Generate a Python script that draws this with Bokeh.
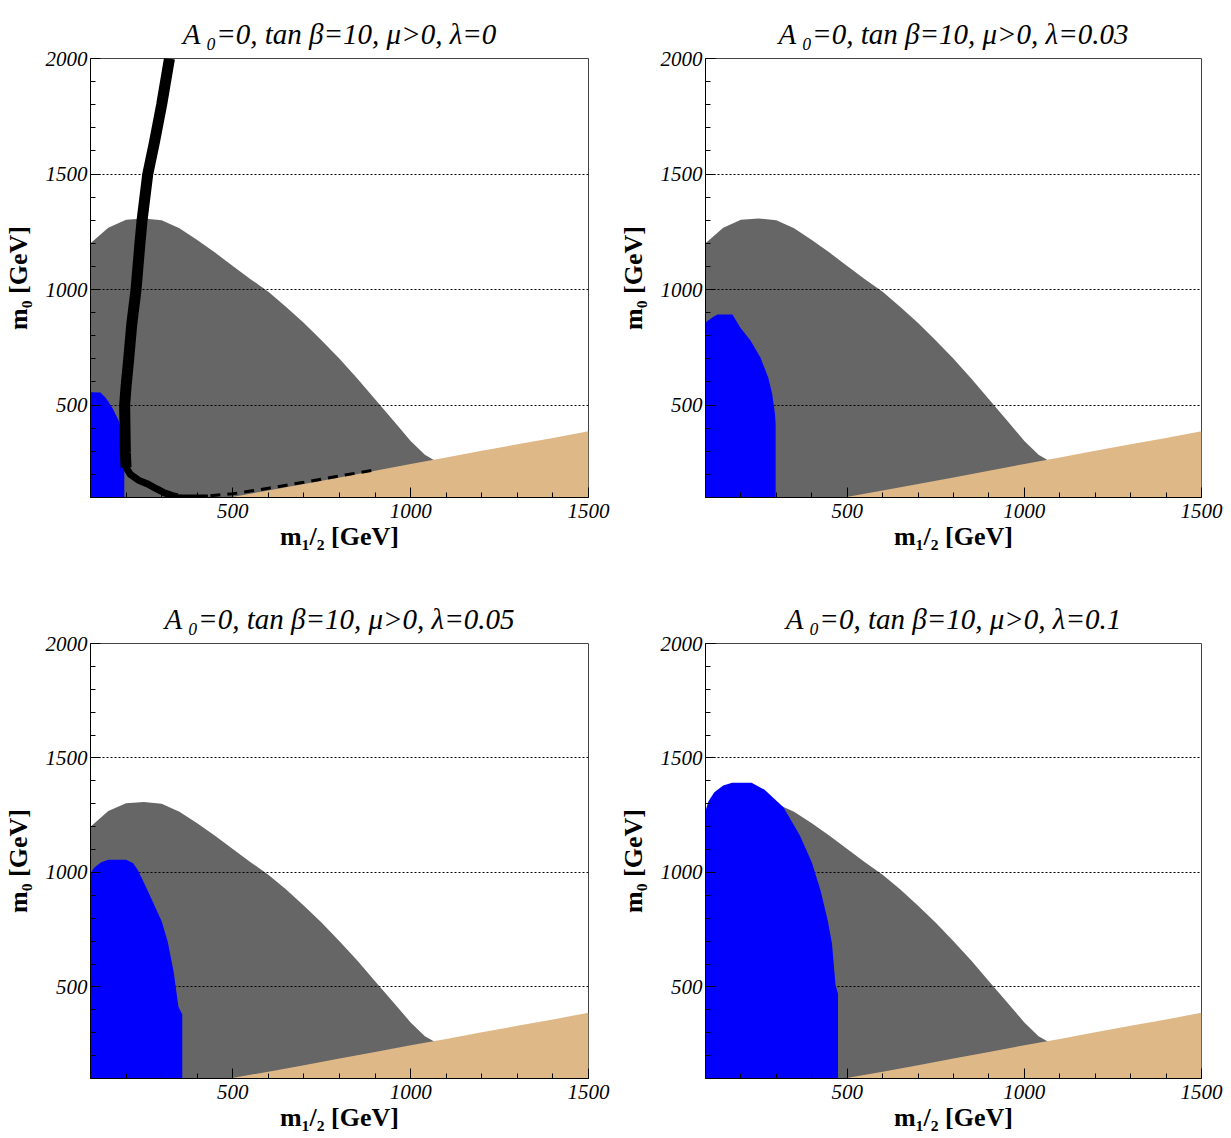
from bokeh.plotting import figure
from bokeh.models import Range1d, FixedTicker
from bokeh.layouts import column, row
from bokeh.embed import file_html
from bokeh.resources import INLINE

# ---------------- data ----------------
X_RANGE = (100, 1500)
Y_RANGE = (100, 2000)
X_MAJOR = [500, 1000, 1500]
X_MINOR = [100, 200, 300, 400, 600, 700, 800, 900, 1100, 1200, 1300, 1400]
Y_MAJOR = [500, 1000, 1500, 2000]
Y_MINOR = [100, 200, 300, 400, 600, 700, 800, 900, 1100, 1200, 1300, 1400,
           1600, 1700, 1800, 1900]

LAMBDAS = ["0", "0.03", "0.05", "0.1"]
X_LABEL = "m₁/₂ [GeV]"
Y_LABEL = "m₀ [GeV]"

# grey excluded region: upper boundary (same in all panels)
gray_x = [100, 150, 200, 250, 300, 350, 400, 450, 500, 550, 600, 650, 700,
          750, 800, 850, 900, 950, 1000, 1040, 1070, 1070]
gray_y = [1200, 1268, 1302, 1308, 1300, 1265, 1215, 1160, 1102, 1045, 990,
          925, 855, 780, 700, 615, 525, 435, 345, 285, 258, 100]

# tan (charged LSP) region: upper boundary
tan_x = [490, 600, 700, 800, 900, 1000, 1100, 1200, 1300, 1400, 1500, 1500]
tan_y = [100, 130, 158, 187, 216, 245, 273, 302, 330, 358, 387, 100]

# blue regions, one per lambda
blue_x = [
    [100, 100, 128, 142, 161, 179, 189, 195, 195],
    [100, 100, 120, 134, 176, 198, 227, 255, 277, 288, 296, 298, 298],
    [100, 100, 110, 130, 150, 200, 220, 233, 256, 278, 300, 317, 334, 347, 358, 358],
    [100, 100, 108, 125, 150, 175, 230, 266, 320, 366, 400, 425, 445, 457, 467, 474, 474],
]
blue_y = [
    [100, 555, 554, 533, 490, 433, 377, 330, 100],
    [100, 857, 880, 892, 892, 836, 779, 706, 619, 550, 463, 420, 100],
    [100, 996, 1020, 1045, 1055, 1055, 1040, 1011, 936, 862, 787, 698, 564, 415, 380, 100],
    [100, 1268, 1310, 1350, 1380, 1392, 1392, 1362, 1285, 1162, 1045, 920, 790, 690, 508, 470, 100],
]

# black band (lambda = 0 panel only)
band_up_x = [322, 300, 280, 261, 245, 239, 228, 216, 208, 200, 196, 197, 198, 200]
band_up_y = [2000, 1800, 1640, 1500, 1300, 1200, 1000, 850, 710, 580, 500, 400, 293, 230]
band_lo_x = [198, 200, 212, 235, 259, 285, 305, 330, 345]
band_lo_y = [300, 230, 200, 175, 160, 138, 122, 108, 104]
band_bot_x = [330, 360, 430]
band_bot_y = [103, 102, 102]
band_dash_x = [437, 500, 600, 700, 800, 900]
band_dash_y = [108, 116, 140, 166, 193, 220]

# ---------------- styling ----------------
FONT = "Liberation Serif"
GRAY = "#666666"
BLUE = "#0000fc"
TAN = "#deb887"


def make_panel(idx, W, H, bl, br, bt, bb):
    title = "A\u2009₀=0, tan β=10, μ>0, λ=" + LAMBDAS[idx]
    p = figure(width=W, height=H, x_range=Range1d(*X_RANGE),
               y_range=Range1d(*Y_RANGE), output_backend="svg",
               toolbar_location=None, min_border_left=bl, min_border_right=br,
               min_border_top=bt, min_border_bottom=bb, title=title)
    p.title.align = "center"
    p.title.text_font = FONT
    p.title.text_font_style = "italic"
    p.title.text_font_size = "29px"
    p.title.text_color = "black"
    p.title.standoff = 17
    p.background_fill_color = "white"
    p.border_fill_color = "white"
    p.outline_line_color = "#444444"
    p.outline_line_width = 1

    # regions
    p.patch(gray_x + [100], gray_y + [100], fill_color=GRAY, line_color=None,
            level="image")
    p.patch(tan_x, tan_y, fill_color=TAN, line_color=None)
    p.patch(blue_x[idx], blue_y[idx], fill_color=BLUE, line_color=None)
    if idx == 0:
        p.line(band_up_x, band_up_y, line_color="black", line_width=11,
               line_join="round")
        p.line(band_lo_x, band_lo_y, line_color="black", line_width=7,
               line_join="round")
        p.line(band_bot_x, band_bot_y, line_color="black", line_width=5)
        p.line(band_dash_x, band_dash_y, line_color="black", line_width=3,
               line_dash="10 7")

    # grid
    p.xgrid.visible = False
    p.ygrid.ticker = FixedTicker(ticks=Y_MAJOR)
    p.ygrid.grid_line_color = "black"
    p.ygrid.grid_line_dash = "2 2"
    p.ygrid.grid_line_width = 1
    p.ygrid.level = "underlay"

    # axes
    p.xaxis.ticker = FixedTicker(ticks=X_MAJOR, minor_ticks=X_MINOR)
    p.yaxis.ticker = FixedTicker(ticks=Y_MAJOR, minor_ticks=Y_MINOR)
    p.xaxis.axis_label = X_LABEL
    p.yaxis.axis_label = Y_LABEL
    for ax in (p.xaxis[0], p.yaxis[0]):
        ax.axis_line_color = "black"
        ax.major_tick_line_color = "black"
        ax.minor_tick_line_color = "black"
        ax.major_tick_in = 10
        ax.major_tick_out = 0
        ax.minor_tick_in = 5
        ax.minor_tick_out = 0
        ax.major_label_text_font = FONT
        ax.major_label_text_font_style = "italic"
        ax.major_label_text_font_size = "21px"
        ax.major_label_text_color = "black"
        ax.axis_label_text_font = FONT
        ax.axis_label_text_font_style = "bold"
        ax.axis_label_text_font_size = "26px"
        ax.axis_label_text_color = "black"
    p.yaxis.major_label_standoff = 3
    p.xaxis.major_label_standoff = 6
    p.yaxis.axis_label_standoff = 10
    p.xaxis.axis_label_standoff = 1
    return p


p1 = make_panel(0, 615, 585, 90, 27, 58, 88)
p2 = make_panel(1, 610, 585, 88, 24, 58, 88)
p3 = make_panel(2, 615, 551, 90, 27, 58, 58)
p4 = make_panel(3, 610, 551, 88, 24, 58, 58)

layout = column(row(p1, p2), row(p3, p4))
open("out.html", "w").write(file_html(layout, INLINE))
